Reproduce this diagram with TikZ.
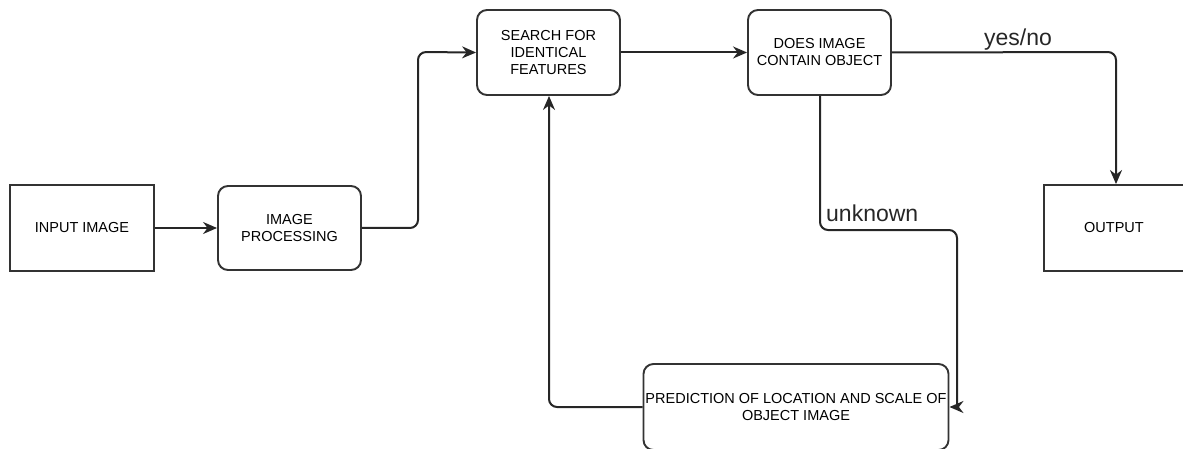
\documentclass[tikz,border=0pt]{standalone}
\usepackage{fontspec}
\setmainfont{Liberation Sans}
\usetikzlibrary{arrows.meta}
\begin{document}
\begin{tikzpicture}[x=1pt,y=-1pt,
  sq/.style={draw=black!80,line width=1.9pt,minimum width=144pt,minimum height=86pt,align=center,inner sep=2pt,font=\fontsize{14.5}{17}\selectfont,text=black},
  rnd/.style={sq,rounded corners=10pt},
  conn/.style={draw=black!85,line width=2pt,rounded corners=8pt,-{Stealth[length=14pt,width=12pt]}},
  lab/.style={font=\fontsize{23}{26}\selectfont,text=black!85,inner sep=0pt}]
\useasboundingbox (0,0) rectangle (1183,449);
\node[sq] (in) at (82,228) {INPUT IMAGE};
\node[rnd,minimum width=143pt,minimum height=84pt] (proc) at (289.5,228) {IMAGE\\PROCESSING};
\node[rnd,minimum width=143pt,minimum height=85pt] (search) at (548.5,52.5) {SEARCH FOR\\IDENTICAL\\FEATURES};
\node[rnd,minimum width=143pt,minimum height=85pt] (does) at (819.5,52.5) {DOES IMAGE\\CONTAIN OBJECT};
\node[sq,minimum width=140pt] (out) at (1114,228) {OUTPUT};
\node[rnd,minimum width=302pt,minimum height=86pt] (pred) at (796,407) {PREDICTION OF LOCATION AND SCALE OF\\OBJECT IMAGE};
\coordinate (c1) at (418,228);
\coordinate (c2) at (418,52);
\draw[conn] (in.east) -- (proc.west);
\draw[conn] (proc.east) -- (c1) -- (c2) -- (search.west);
\draw[conn] (search.east) -- (does.west);
\coordinate (c3) at (1116,52);
\draw[conn] (does.east) -- (c3) -- (out.north -| c3);
\coordinate (c4) at (820,230);
\coordinate (c5) at (957,230);
\coordinate (c6) at (957,407);
\draw[conn] (does.south -| c4) -- (c4) -- (c5) [sharp corners] -- (c6) -- (pred.east |- c6);
\coordinate (c7) at (549,407);
\draw[conn] (pred.west |- c7) -- (c7) -- (search.south -| c7);
\node[lab,anchor=base] (yn) at (1018,46) {yes/no};
\node[lab,anchor=base west] (unk) at (826,222) {unknown};
\end{tikzpicture}
\end{document}
